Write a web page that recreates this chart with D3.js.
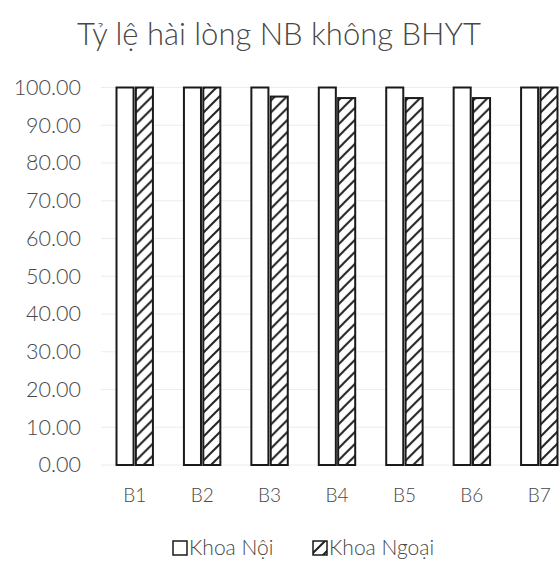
<!DOCTYPE html>
<html>
<head>
<meta charset="utf-8">
<script src="https://cdn.jsdelivr.net/npm/d3@7"></script>
<style>
  body { margin: 0; background: #fff; }
  svg { display: block; font-family: Lato, "Open Sans", sans-serif; font-weight: 300; }
</style>
</head>
<body>
<svg id="chart" width="560" height="561"></svg>
<script>
const categories = ['B1', 'B2', 'B3', 'B4', 'B5', 'B6', 'B7'];
const khoaNoi = [100, 100, 100, 100, 100, 100, 100];
const khoaNgoai = [100, 100, 97.6, 97.2, 97.2, 97.2, 100];
const yTicks = [0, 10, 20, 30, 40, 50, 60, 70, 80, 90, 100];
const seriesNames = ['Khoa Nội', 'Khoa Ngoại'];

const svg = d3.select('#chart');
const textColor = '#474747';

// hatch pattern for the second series
const defs = svg.append('defs');
const pat = defs.append('pattern')
  .attr('id', 'hatch')
  .attr('patternUnits', 'userSpaceOnUse')
  .attr('width', 12).attr('height', 12);
pat.append('rect').attr('width', 12).attr('height', 12).attr('fill', '#fff');
pat.append('path')
  .attr('d', 'M0,12 L12,0 M-3,3 L3,-3 M9,15 L15,9')
  .attr('stroke', '#222').attr('stroke-width', 2);

const x = d3.scaleBand().domain(categories).range([101, 573]).paddingInner(0.46).paddingOuter(0.23);
const y = d3.scaleLinear().domain([0, 100]).range([465, 87.5]);

// title
svg.append('text')
  .attr('x', 279).attr('y', 45)
  .attr('text-anchor', 'middle')
  .attr('font-size', 31)
  .attr('fill', textColor)
  .text('Tỷ lệ hài lòng NB không BHYT');

// gridlines
svg.append('g')
  .selectAll('line')
  .data(yTicks)
  .join('line')
  .attr('x1', 101).attr('x2', 560)
  .attr('y1', (d) => y(d)).attr('y2', (d) => y(d))
  .attr('stroke', '#ececec').attr('stroke-width', 1);

// y axis labels
const yAxis = svg.append('g')
  .attr('transform', 'translate(81,0)')
  .call(d3.axisLeft(y).tickValues(yTicks).tickFormat(d3.format('.2f')).tickSize(0).tickPadding(0));
yAxis.select('.domain').remove();
yAxis.selectAll('text').attr('font-size', 21.5).attr('fill', textColor)
  .attr('font-family', 'Lato, sans-serif').attr('font-weight', 300);

// bars
const sub = d3.scaleBand().domain([0, 1]).range([0, x.bandwidth()]).paddingInner(0.12);
const rows = categories.map((c, i) => ({c, vals: [khoaNoi[i], khoaNgoai[i]]}));
const groups = svg.append('g')
  .selectAll('g')
  .data(rows)
  .join('g')
  .attr('transform', (d) => `translate(${x(d.c)},0)`);
groups.selectAll('rect')
  .data((d) => d.vals.map((v, k) => ({v, k})))
  .join('rect')
  .attr('x', (d) => sub(d.k))
  .attr('y', (d) => y(d.v))
  .attr('width', sub.bandwidth())
  .attr('height', (d) => y(0) - y(d.v))
  .attr('fill', (d) => d.k === 0 ? '#fff' : 'url(#hatch)')
  .attr('stroke', '#1a1a1a')
  .attr('stroke-width', 2);

// x labels
const xAxis = svg.append('g')
  .attr('transform', 'translate(0,488)')
  .call(d3.axisBottom(x).tickSize(0).tickPadding(0));
xAxis.select('.domain').remove();
xAxis.selectAll('text').attr('font-size', 19).attr('fill', textColor).attr('dy', '0.71em')
  .attr('font-family', 'Lato, sans-serif').attr('font-weight', 300);

// legend
const legendX = [173, 313];
const legend = svg.append('g')
  .selectAll('g')
  .data(seriesNames)
  .join('g')
  .attr('transform', (d, i) => `translate(${legendX[i]},541)`);
legend.append('rect')
  .attr('width', 14).attr('height', 14)
  .attr('fill', (d, i) => i === 0 ? '#fff' : 'url(#hatch)')
  .attr('stroke', '#1a1a1a').attr('stroke-width', 1.5);
legend.append('text')
  .attr('x', 16).attr('y', 14)
  .attr('font-size', 21)
  .attr('fill', textColor)
  .text((d) => d);
</script>
</body>
</html>
